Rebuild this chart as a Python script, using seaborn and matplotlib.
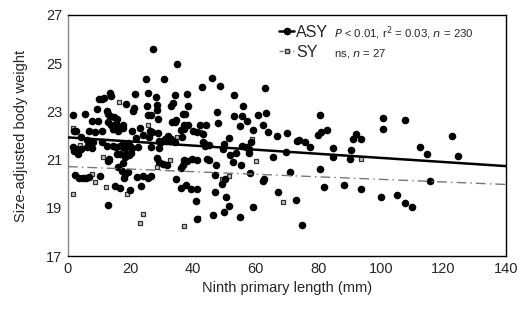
import numpy as np
import pandas as pd
import matplotlib
matplotlib.use("Agg")
import matplotlib.pyplot as plt
import seaborn as sns
from matplotlib.lines import Line2D

# ASY birds: (ninth primary length mm, size-adjusted body weight)
asy_points = [
    (27.2, 25.59), (34.93, 24.97), (24.92, 24.34), (30.67, 24.33), (46.11, 24.37),
    (42.71, 23.99), (48.67, 24.07), (62.94, 23.97), (52.93, 23.67), (21.41, 23.72),
    (25.67, 23.76), (34.19, 23.68), (38.02, 23.71), (13.42, 23.75), (13.63, 23.64),
    (10.0, 23.51), (10.97, 23.53), (11.61, 23.54), (18.42, 23.31), (28.22, 23.61),
    (25.35, 23.24), (28.33, 23.28), (38.23, 23.22), (32.91, 23.22), (33.44, 23.35),
    (55.81, 23.24), (63.15, 22.92), (60.81, 22.83), (47.5, 22.96), (53.04, 22.80),
    (55.59, 22.81), (48.03, 22.52), (57.08, 22.62), (62.3, 22.45), (59.21, 22.23),
    (63.9, 22.13), (66.88, 21.99), (69.86, 22.11), (1.70, 22.84), (5.54, 22.88),
    (9.16, 23.10), (12.35, 23.03), (12.67, 22.89), (13.42, 22.81), (14.59, 22.78),
    (15.66, 22.70), (21.09, 23.13), (20.87, 23.02), (28.54, 23.06), (28.76, 22.67),
    (25.56, 22.85), (26.41, 22.84), (36.64, 22.89), (37.49, 22.89), (34.61, 22.66),
    (34.08, 22.55), (33.33, 22.56), (37.06, 22.45), (38.23, 22.43), (36.96, 22.27),
    (42.07, 22.43), (44.09, 22.44), (43.13, 22.06), (39.83, 22.20), (41.11, 22.13),
    (54.85, 22.38), (7.67, 22.60), (9.69, 22.62), (12.89, 22.56), (13.63, 22.45),
    (15.44, 22.48), (17.68, 22.43), (17.47, 22.30), (16.72, 22.37), (16.08, 22.20),
    (14.27, 22.26), (20.45, 22.20), (23.0, 22.30), (26.2, 22.20), (26.84, 22.15),
    (25.77, 21.92), (23.86, 22.0), (21.73, 21.90), (28.86, 22.12), (32.06, 21.97),
    (31.95, 21.81), (32.91, 21.84), (31.42, 21.77), (34.08, 21.74), (36.32, 21.92),
    (36.1, 22.24), (1.81, 22.19), (2.56, 22.19), (4.05, 21.92), (6.60, 22.20),
    (8.63, 22.13), (10.76, 22.17), (5.96, 21.83), (6.60, 21.70), (8.09, 21.74),
    (10.76, 21.74), (1.70, 21.54), (2.56, 21.43), (2.02, 21.37), (4.05, 21.43),
    (3.20, 21.23), (5.96, 21.54), (7.77, 21.47), (12.35, 21.55), (14.48, 21.57),
    (15.34, 21.51), (16.5, 21.57), (17.36, 21.59), (17.68, 21.51), (18.32, 21.46),
    (19.28, 21.70), (19.92, 21.57), (20.34, 21.50), (15.76, 21.22), (16.61, 21.22),
    (18.42, 21.23), (22.37, 21.51), (26.41, 21.51), (29.18, 21.79), (29.18, 21.48),
    (29.61, 21.73), (31.1, 21.86), (32.59, 21.79), (43.03, 21.74), (43.88, 21.65),
    (43.67, 21.57), (45.05, 21.62), (49.95, 21.65), (51.44, 21.91), (49.42, 21.44),
    (51.76, 21.19), (53.57, 21.26), (55.49, 21.57), (56.87, 21.51), (57.72, 21.44),
    (58.58, 21.74), (57.72, 21.26), (65.5, 21.11), (69.65, 21.32), (13.10, 21.04),
    (12.67, 20.94), (19.38, 21.18), (20.13, 21.26), (17.68, 20.87), (18.21, 21.10),
    (28.44, 21.05), (28.97, 20.91), (31.74, 20.76), (30.25, 20.82), (37.17, 20.98),
    (37.91, 20.94), (39.72, 21.03), (41.11, 21.0), (36.74, 20.76), (36.0, 20.64),
    (44.3, 21.04), (45.05, 20.98), (47.39, 20.79), (52.72, 20.91), (55.27, 20.79),
    (58.26, 20.45), (62.62, 20.19), (62.2, 20.10), (2.24, 20.36), (3.51, 20.25),
    (4.69, 20.22), (5.75, 20.24), (6.82, 20.26), (10.1, 20.33), (16.08, 20.71),
    (17.25, 20.53), (18.21, 20.39), (19.17, 20.47), (17.89, 20.24), (21.94, 20.29),
    (23.96, 20.32), (26.52, 20.33), (25.45, 20.24), (23.43, 19.90), (15.02, 19.90),
    (16.72, 19.82), (19.81, 19.74), (34.51, 20.21), (46.97, 20.35), (50.06, 20.19),
    (49.31, 19.97), (36.21, 19.81), (37.59, 19.96), (39.3, 19.78), (41.22, 19.77),
    (46.86, 19.67), (50.37, 19.46), (40.9, 19.30), (51.33, 19.08), (49.74, 18.81),
    (46.43, 18.70), (54.85, 18.63), (59.11, 19.05), (41.32, 18.53), (12.67, 19.10),
    (67.2, 19.67), (80.42, 22.83), (100.66, 22.73), (107.69, 22.65), (100.66, 22.27),
    (82.87, 22.21), (80.85, 22.13), (80.0, 22.02), (91.93, 22.05), (91.18, 21.84),
    (93.63, 21.86), (73.08, 21.76), (73.82, 21.81), (75.84, 21.73), (77.34, 21.52),
    (122.7, 21.97), (112.59, 21.54), (114.72, 21.25), (124.73, 21.14), (84.68, 21.47),
    (90.43, 21.40), (84.79, 21.10), (90.22, 21.01), (70.95, 20.49), (80.53, 20.59),
    (81.81, 19.87), (88.09, 19.93), (93.74, 19.78), (99.91, 19.46), (105.24, 19.53),
    (107.69, 19.21), (109.92, 19.03), (115.68, 20.13), (72.76, 19.32), (74.89, 18.27),
]

# SY birds
sy_points = [
    (1.49, 19.57), (1.70, 22.30), (7.77, 20.42), (8.63, 20.09), (12.25, 19.88),
    (14.48, 22.24), (16.40, 23.40), (18.74, 19.56), (23.11, 18.36), (24.07, 18.74),
    (25.45, 22.43), (34.93, 21.92), (36.96, 18.25), (41.5, 18.58), (49.1, 20.19),
    (51.44, 20.33), (59.96, 20.93), (68.59, 19.26), (93.74, 21.03), (13.42, 20.98),
    (28.33, 20.68), (19.17, 21.67), (58.7, 21.86), (42.2, 22.16), (3.83, 21.61),
    (11.3, 21.12), (32.59, 20.98),
]

# regression lines (intercept, slope)
asy_fit = (21.92, -0.0085)
sy_fit = (20.71, -0.0053)
fit_x = [0, 140]

x_ticks = [0, 20, 40, 60, 80, 100, 120, 140]
y_ticks = [17, 19, 21, 23, 25, 27]

asy = pd.DataFrame(asy_points, columns=["length", "weight"])
sy = pd.DataFrame(sy_points, columns=["length", "weight"])

sns.set_style("white")
plt.rcParams["font.family"] = ["Liberation Sans", "DejaVu Sans"]

fig = plt.figure(figsize=(5.27, 3.10), dpi=100)
ax = fig.add_axes([0.129, 0.174, 0.831, 0.778])

sns.scatterplot(data=sy, x="length", y="weight", marker="s", s=11,
                color="#c8c8c8", edgecolor="#333333", linewidth=0.9, ax=ax, zorder=2)
sns.scatterplot(data=asy, x="length", y="weight", marker="o", s=30,
                color="black", edgecolor="black", linewidth=0, ax=ax, zorder=3)

fx = np.array(fit_x, dtype=float)
sns.lineplot(x=fx, y=asy_fit[0] + asy_fit[1] * fx, color="black", lw=1.8, ax=ax, zorder=4)
sns.lineplot(x=fx, y=sy_fit[0] + sy_fit[1] * fx, color="#777777", lw=1.0,
             linestyle=(0, (7, 3, 1, 3)), ax=ax, zorder=4)

ax.set_xlim(0, 140)
ax.set_ylim(17, 27)
ax.set_xticks(x_ticks)
ax.set_yticks(y_ticks)
ax.tick_params(length=0, labelsize=10.5, pad=4)
ax.set_xlabel("Ninth primary length (mm)", fontsize=10.5, labelpad=4)
ax.set_ylabel("Size-adjusted body weight", fontsize=10.5, labelpad=13)
for s in ax.spines.values():
    s.set_color("black")
    s.set_linewidth(1.0)
ax.spines["left"].set_color("#888888")

handles = [
    Line2D([], [], color="black", lw=1.8, marker="o", markersize=4.5),
    Line2D([], [], color="#777777", lw=1.0, linestyle=(0, (3, 2)), marker="s",
           markersize=3.2, markerfacecolor="#c8c8c8", markeredgecolor="#333333"),
]
ax.legend(handles, ["ASY", "SY"], loc="upper left", bbox_to_anchor=(0.468, 0.985),
          frameon=False, handlelength=0.9, handletextpad=0.15, labelspacing=0.3,
          fontsize=11.5, borderaxespad=0)
ax.text(0.607, 0.925, r"$\it{P}$ < 0.01, r$^2$ = 0.03, $\it{n}$ = 230",
        transform=ax.transAxes, fontsize=8.2, va="center")
ax.text(0.607, 0.84, r"ns, $\it{n}$ = 27", transform=ax.transAxes, fontsize=8.2, va="center")

fig.savefig("out.png", dpi=100)
